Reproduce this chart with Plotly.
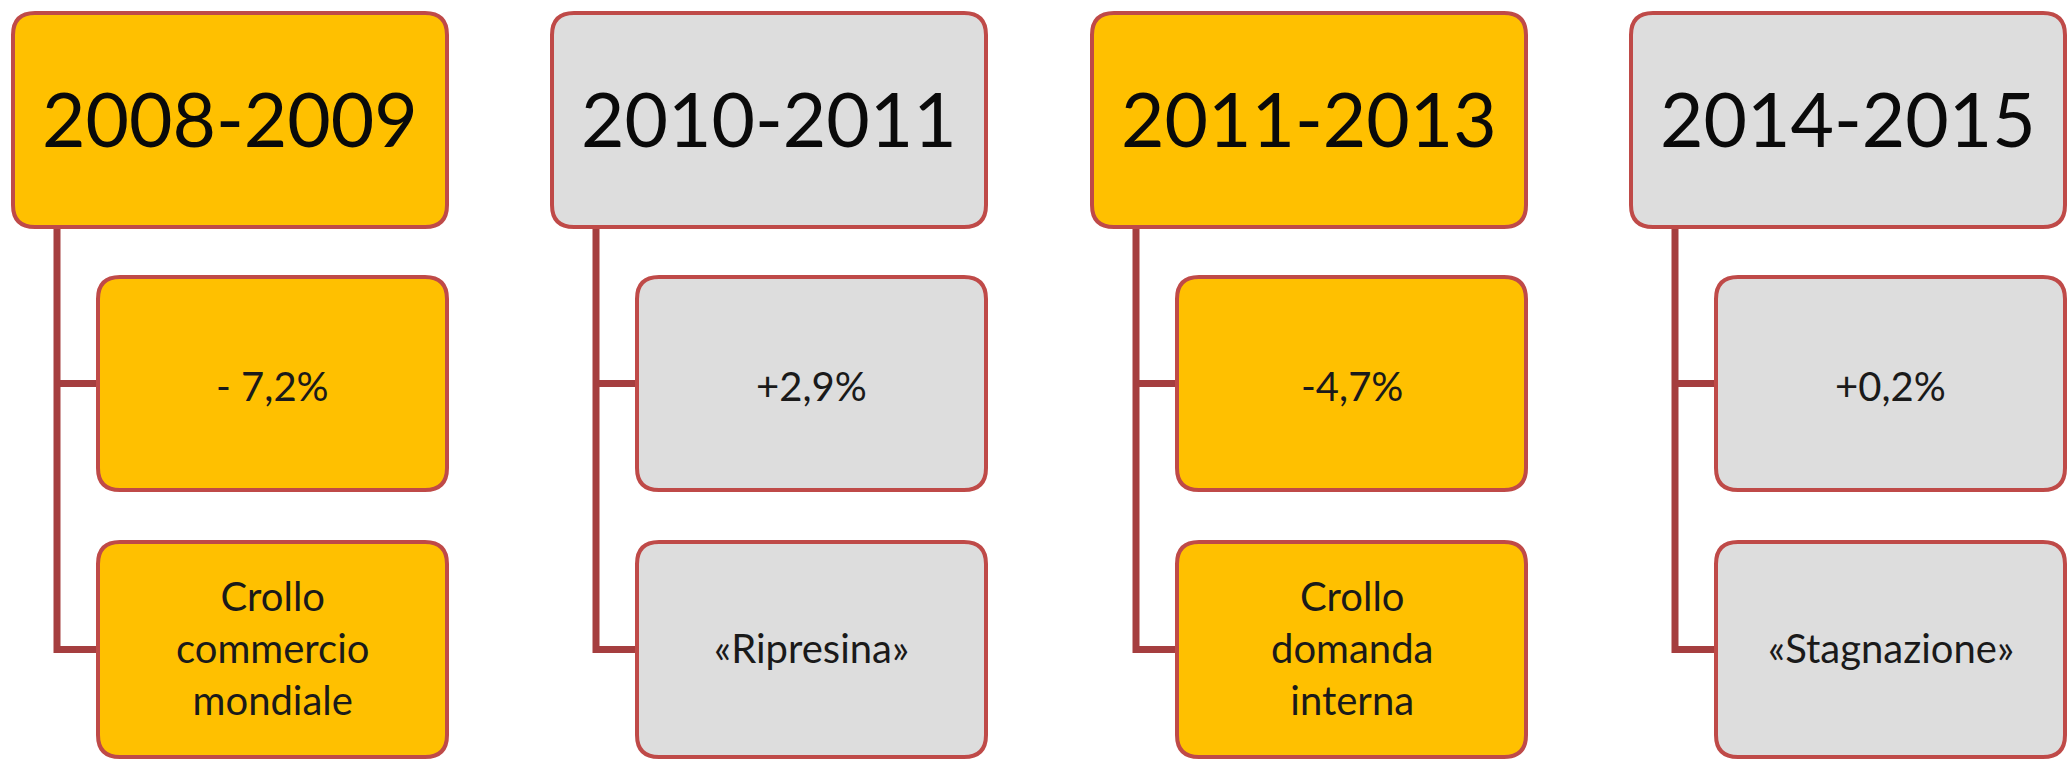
import plotly.graph_objects as go

# ---- data ----
periods = ["2008-2009", "2010-2011", "2011-2013", "2014-2015"]
changes = ["- 7,2%", "+2,9%", "-4,7%", "+0,2%"]
descriptions = ["Crollo<br>commercio<br>mondiale", "«Ripresina»", "Crollo<br>domanda<br>interna", "«Stagnazione»"]
fill_colors = ["#FFC000", "#DDDDDD", "#FFC000", "#DDDDDD"]

# ---- styling / layout constants ----
W, H = 2067, 763
BORDER = "#BF4A48"
CONNECTOR = "#A53E3F"
FONT = "Lato"
col_x0 = [13, 552, 1092, 1631]
top_w = 434
top_y = (13, 227)
child_dx = 85
child1_y = (277, 490)
child2_y = (542, 757)
conn_dx = 44
R = 22


def rrect(x0, y0, x1, y1, r):
    return (f"M {x0+r},{y0} L {x1-r},{y0} Q {x1},{y0} {x1},{y0+r} "
            f"L {x1},{y1-r} Q {x1},{y1} {x1-r},{y1} L {x0+r},{y1} "
            f"Q {x0},{y1} {x0},{y1-r} L {x0},{y0+r} Q {x0},{y0} {x0+r},{y0} Z")


fig = go.Figure()
shapes = []
annotations = []
for i, (per, chg, desc, fc) in enumerate(zip(periods, changes, descriptions, fill_colors)):
    x0 = col_x0[i]
    x1 = x0 + top_w
    cx0 = x0 + child_dx
    vx = x0 + conn_dx
    c1_mid = (child1_y[0] + child1_y[1]) / 2
    c2_mid = (child2_y[0] + child2_y[1]) / 2
    # connectors
    shapes.append(dict(type="path", xref="x", yref="y",
                       path=f"M {vx},{top_y[1]} L {vx},{c2_mid} L {cx0},{c2_mid}",
                       line=dict(color=CONNECTOR, width=7), layer="below"))
    shapes.append(dict(type="line", xref="x", yref="y", x0=vx, x1=cx0, y0=c1_mid, y1=c1_mid,
                       line=dict(color=CONNECTOR, width=7), layer="below"))
    # boxes
    for (bx0, by0, bx1, by1) in [(x0, top_y[0], x1, top_y[1]),
                                 (cx0, child1_y[0], x1, child1_y[1]),
                                 (cx0, child2_y[0], x1, child2_y[1])]:
        shapes.append(dict(type="path", xref="x", yref="y", path=rrect(bx0, by0, bx1, by1, R),
                           fillcolor=fc, line=dict(color=BORDER, width=4)))
    annotations.append(dict(x=(x0 + x1) / 2, y=(top_y[0] + top_y[1]) / 2 - 2, xref="x", yref="y",
                            text=per, showarrow=False,
                            font=dict(family=FONT, size=75, color="#0A0A0A")))
    annotations.append(dict(x=(cx0 + x1) / 2, y=c1_mid + 2, xref="x", yref="y",
                            text=chg, showarrow=False,
                            font=dict(family=FONT, size=40, color="#1A1A1A")))
    annotations.append(dict(x=(cx0 + x1) / 2, y=c2_mid - 2, xref="x", yref="y",
                            text=desc, showarrow=False,
                            font=dict(family=FONT, size=40, color="#1A1A1A")))

fig.update_layout(
    width=W, height=H,
    margin=dict(l=0, r=0, t=0, b=0),
    paper_bgcolor="white", plot_bgcolor="white",
    xaxis=dict(range=[0, W], visible=False, fixedrange=True),
    yaxis=dict(range=[H, 0], visible=False, fixedrange=True),
    shapes=shapes, annotations=annotations, showlegend=False,
)

fig.write_html("out.html", config={"displayModeBar": False},
               post_script="document.body.style.margin='0';document.body.style.overflow='hidden';")
